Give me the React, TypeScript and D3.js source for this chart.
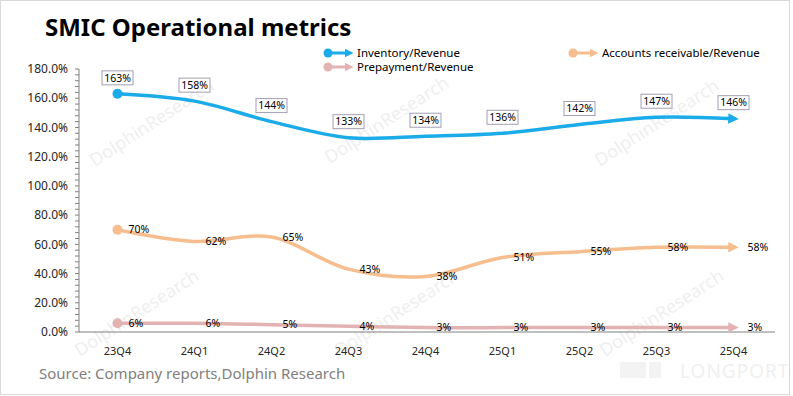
import React from "react";
import * as d3 from "d3";

const categories = ["23Q4", "24Q1", "24Q2", "24Q3", "24Q4", "25Q1", "25Q2", "25Q3", "25Q4"];
const inventory = [1.63, 1.58, 1.44, 1.33, 1.34, 1.36, 1.42, 1.47, 1.46];
const receivable = [0.7, 0.62, 0.65, 0.43, 0.38, 0.51, 0.55, 0.58, 0.58];
const prepayment = [0.06, 0.06, 0.05, 0.04, 0.03, 0.03, 0.03, 0.03, 0.03];
const yTicks = [0, 0.2, 0.4, 0.6, 0.8, 1.0, 1.2, 1.4, 1.6, 1.8];

const W = 793;
const H = 396;
const FONT = "'Noto Sans', 'DejaVu Sans', sans-serif";

const BLUE = "#1aabe8";
const ORANGE = "#f6bd8f";
const PINK = "#e3b3b3";

const watermarks = [
  [155, 128],
  [390, 125],
  [660, 128],
  [140, 318],
  [400, 318],
  [665, 318],
];

export default function App() {
  const x = d3.scaleBand().domain(categories).range([79, 772]);
  const y = d3.scaleLinear().domain([0, 1.8]).range([332, 69]);
  const cx = (c: string) => (x(c) as number) + x.bandwidth() / 2;

  const line = d3
    .line<number>()
    .x((_, i) => cx(categories[i]))
    .y((d) => y(d))
    .curve(d3.curveCatmullRom.alpha(0.5));

  const minor = d3.range(0, 1.8001, 0.04);
  const pct = (v: number) => `${Math.round(v * 100)}%`;

  const series = [
    { data: inventory, color: BLUE, id: "b" },
    { data: receivable, color: ORANGE, id: "o" },
    { data: prepayment, color: PINK, id: "p" },
  ];

  return (
    <svg width={W} height={H} style={{ position: "absolute", left: 0, top: 0 }}>
      <defs>
        {series.map((s) => (
          <marker
            key={s.id}
            id={"arrow-" + s.id}
            viewBox="0 0 10 10"
            refX="5"
            refY="5"
            markerWidth="3"
            markerHeight="3"
            markerUnits="strokeWidth"
            orient="auto"
          >
            <path d="M0,0 L10,5 L0,10 Z" fill={s.color} />
          </marker>
        ))}
      </defs>
      <rect x={0.5} y={0.5} width={W - 4} height={H - 2} fill="#fff" stroke="#d9d9d9" />

      {/* watermarks */}
      {watermarks.map(([wx, wy], i) => (
        <text
          key={i}
          transform={`translate(${wx},${wy}) rotate(-33)`}
          textAnchor="middle"
          fontFamily={FONT}
          fontSize={18}
          fill="#efefef"
        >
          DolphinResearch
        </text>
      ))}
      <rect x={620} y={362} width={26} height={16} fill="#f3f3f3" />
      <rect x={649} y={362} width={12} height={16} fill="#f3f3f3" />
      <text x={680} y={378} fontFamily={FONT} fontSize={19} fill="#f0f0f0" letterSpacing={1}>
        LONGPORT
      </text>

      {/* title */}
      <text x={45} y={36} fontFamily={FONT} fontWeight="bold" fontSize={24} fill="#000">
        SMIC Operational metrics
      </text>

      {/* legend */}
      {[
        { label: "Inventory/Revenue", color: BLUE, lx: 328, ly: 53, id: "b" },
        { label: "Prepayment/Revenue", color: PINK, lx: 328, ly: 67, id: "p" },
        { label: "Accounts receivable/Revenue", color: ORANGE, lx: 573, ly: 53, id: "o" },
      ].map((l) => (
        <g key={l.label}>
          <line
            x1={l.lx}
            y1={l.ly}
            x2={l.lx + 21}
            y2={l.ly}
            stroke={l.color}
            strokeWidth={3}
            markerEnd={`url(#arrow-${l.id})`}
          />
          <circle cx={l.lx} cy={l.ly} r={4.5} fill={l.color} />
          <text x={l.lx + 29} y={l.ly} dy="0.35em" fontFamily={FONT} fontSize={11.5} fill="#000">
            {l.label}
          </text>
        </g>
      ))}

      {/* y axis */}
      <line x1={79} y1={y(1.8)} x2={79} y2={y(0)} stroke="#808080" />
      {minor.map((t, i) => (
        <line key={i} x1={75} x2={79} y1={y(t)} y2={y(t)} stroke="#808080" />
      ))}
      {yTicks.map((t) => (
        <text
          key={t}
          x={68}
          y={y(t)}
          dy="0.35em"
          textAnchor="end"
          fontFamily={FONT}
          fontSize={12}
          fill="#262626"
        >
          {(t * 100).toFixed(1)}%
        </text>
      ))}

      {/* x axis */}
      <line x1={79} y1={y(0)} x2={775} y2={y(0)} stroke="#808080" />
      {categories.map((c) => (
        <text
          key={c}
          x={cx(c)}
          y={351}
          dy="0.35em"
          textAnchor="middle"
          fontFamily={FONT}
          fontSize={11}
          fill="#262626"
        >
          {c}
        </text>
      ))}

      {/* lines */}
      {series.map((s) => (
        <g key={s.id}>
          <path
            d={line(s.data) as string}
            fill="none"
            stroke={s.color}
            strokeWidth={3.5}
            markerEnd={`url(#arrow-${s.id})`}
          />
          <circle cx={cx(categories[0])} cy={y(s.data[0])} r={5} fill={s.color} />
        </g>
      ))}

      {/* inventory labels in boxes */}
      {inventory.map((v, i) => {
        const px = cx(categories[i]);
        const py = y(v) - 16;
        return (
          <g key={i}>
            <rect x={px - 15.5} y={py - 7} width={31} height={14} fill="#fff" stroke="#a39eb3" />
            <text
              x={px}
              y={py}
              dy="0.35em"
              textAnchor="middle"
              fontFamily={FONT}
              fontSize={10.5}
              fill="#000"
            >
              {pct(v)}
            </text>
          </g>
        );
      })}

      {/* other labels */}
      {[receivable, prepayment].map((arr, k) =>
        arr.map((v, i) => (
          <text
            key={k + "-" + i}
            x={cx(categories[i]) + (i === categories.length - 1 ? 14 : 11)}
            y={y(v)}
            dy="0.35em"
            fontFamily={FONT}
            fontSize={10.5}
            fill="#000"
          >
            {pct(v)}
          </text>
        ))
      )}

      {/* source */}
      <text x={39} y={374} dy="0.35em" fontFamily={FONT} fontSize={15} fill="#808080">
        Source: Company reports,Dolphin Research
      </text>
    </svg>
  );
}
